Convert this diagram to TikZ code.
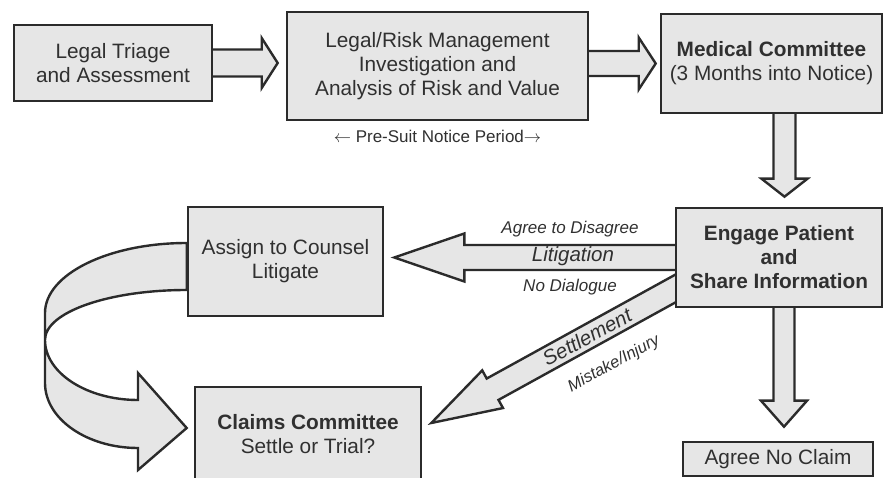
\documentclass[tikz,border=0pt]{standalone}
\usepackage{fontspec}
\setmainfont{Liberation Sans}
\usepackage{xcolor}
\usepackage{tikz}
\usetikzlibrary{calc, positioning, backgrounds}
\definecolor{boxgray}{HTML}{E6E6E6}
\definecolor{linegray}{HTML}{2B2B2B}
\definecolor{textgray}{HTML}{303030}
% block arrow: start, tip, shaft half width, head half width, head length
\newcommand{\blockarr}[5]{%
  \coordinate (ba-s) at #1;
  \coordinate (ba-t) at #2;
  \coordinate (ba-h) at ($(ba-t)!#5!(ba-s)$);
  \filldraw[blk] ($(ba-s)!#3!90:(ba-t)$) -- ($(ba-h)!#3!90:(ba-t)$) -- ($(ba-h)!#4!90:(ba-t)$) -- (ba-t)
    -- ($(ba-h)!#4!-90:(ba-t)$) -- ($(ba-h)!#3!-90:(ba-t)$) -- ($(ba-s)!#3!-90:(ba-t)$) -- cycle;
}

\begin{document}
\begin{tikzpicture}[x=1pt, y=-1pt,
    box/.style={rectangle, draw=linegray, line width=2.6pt, fill=boxgray, inner sep=0pt, align=center, text=textgray, font=\fontsize{20.8}{24}\selectfont},
    blk/.style={draw=linegray, line width=2.4pt, fill=boxgray, line join=miter},
    lbl/.style={inner sep=0pt, text=textgray, font=\fontsize{17}{20}\selectfont\itshape}]
    \useasboundingbox (0,0) rectangle (884,478);
    \node[box, minimum width=198, minimum height=76] (triage) at (113,63) {Legal Triage\\and Assessment};
    \node[box, minimum width=301, minimum height=108] (riskinv) at (437.5,66) {Legal/Risk Management\\Investigation and\\Analysis of Risk and Value};
    \node[box, minimum width=221, minimum height=99] (medcom) at (771.5,63.5) {\textbf{Medical Committee}\\(3 Months into Notice)};
    \node[box, minimum width=206, minimum height=99] (engage) at (779,257.5) {\textbf{Engage Patient}\\\textbf{and}\\\textbf{Share Information}};
    \node[box, minimum width=190, minimum height=34] (noclaim) at (778,459) {Agree No Claim};
    \node[box, minimum width=195, minimum height=109] (counsel) at (285.5,261.5) {Assign to Counsel\\Litigate};
    \node[box, minimum width=226, minimum height=94] (claims) at (308,434) {\textbf{Claims Committee}\\Settle or Trial?};
    \node[lbl, font=\fontsize{17}{20}\selectfont, below=9pt of riskinv] (presuit) {$\leftarrow$ Pre-Suit Notice Period$\rightarrow$};
    \node[lbl] (agree) at (570,229) {Agree to Disagree};
    \node[lbl, font=\fontsize{20.5}{24}\selectfont\itshape] (litig) at (573,256) {Litigation};
    \node[lbl] (nodial) at (570,287) {No Dialogue};
    \node[lbl, font=\fontsize{20.5}{24}\selectfont\itshape, rotate=28.6] (settle) at (587,337) {Settlement};
    \node[lbl, font=\fontsize{16.5}{20}\selectfont\itshape, rotate=28.6] (mistake) at (614,364) {Mistake/Injury};
    \coordinate (medtip) at ($(engage.north)+(5.5,-10)$);
    \coordinate (engtip) at ($(noclaim.north)+(6,-14)$);
    \begin{pgfonlayer}{background}
    \blockarr{(triage.center)}{($(triage.center -| riskinv.west)+(-8,0)$)}{13.5pt}{25pt}{16pt}
    \blockarr{(riskinv.center |- medcom.center)}{($(medcom.west)+(-4,0)$)}{12.5pt}{26pt}{17pt}
    \blockarr{(medtip |- medcom.center)}{(medtip)}{11pt}{23pt}{18pt}
    \blockarr{(engage.center)}{($(engage.center -| counsel.east)+(10,0)$)}{12.5pt}{24pt}{70pt}
    \blockarr{($(engage.west)+(8,27)$)}{($(claims.east)+(9,-11)$)}{12.2pt}{21.5pt}{70pt}
    \blockarr{(engtip |- engage.center)}{(engtip)}{10.5pt}{23pt}{26pt}
    \filldraw[blk] ($(counsel.west)+(0,-18.5)$) .. controls (109,243) and (45,274) .. (45,313)
        -- (45,383) .. controls (45,419) and (87,448) .. (138,448)
        -- (138,470) -- ($(claims.west)+(-7,-6)$) -- (138,373) -- (138,400)
        .. controls (87,400) and (45,373) .. (45,340)
        .. controls (45,312) and (109,290) .. ($(counsel.west)+(0,28.5)$) -- cycle;
    \end{pgfonlayer}
\end{tikzpicture}
\end{document}
